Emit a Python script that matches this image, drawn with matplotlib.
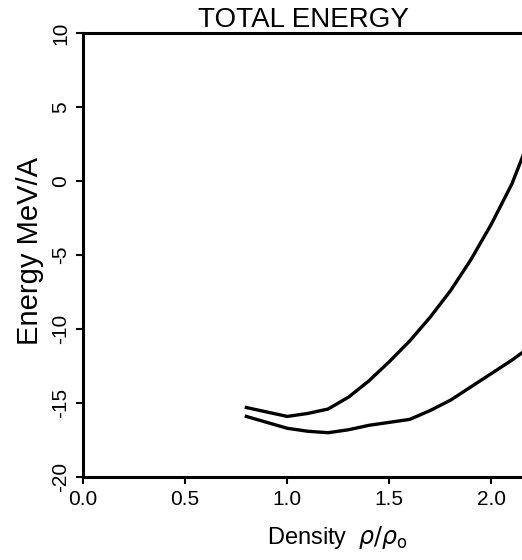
import matplotlib
matplotlib.use("Agg")
import matplotlib.pyplot as plt

# Values (density rho/rho0, energy MeV/A)
density_upper = [0.80, 0.90, 1.00, 1.10, 1.20, 1.30, 1.40, 1.50, 1.60, 1.70, 1.80, 1.90, 2.00, 2.10, 2.16]
energy_upper = [-15.3, -15.6, -15.9, -15.7, -15.4, -14.6, -13.5, -12.2, -10.8, -9.2, -7.4, -5.3, -2.9, -0.2, 1.9]

density_lower = [0.80, 0.90, 1.00, 1.10, 1.20, 1.30, 1.40, 1.50, 1.60, 1.70, 1.80, 1.90, 2.00, 2.10, 2.16]
energy_lower = [-15.9, -16.3, -16.7, -16.9, -17.0, -16.8, -16.5, -16.3, -16.1, -15.5, -14.8, -13.9, -13.0, -12.1, -11.5]

x_ticks = [0.0, 0.5, 1.0, 1.5, 2.0]
y_ticks = [-20, -15, -10, -5, 0, 5, 10]

plt.rcParams['font.family'] = ['Liberation Sans', 'DejaVu Sans']

fig = plt.figure(figsize=(5.22, 5.6), dpi=100)
ax = fig.add_axes([0.159, 0.148, 0.845, 0.793])

ax.plot(density_upper, energy_upper, color='black', lw=2.4)
ax.plot(density_lower, energy_lower, color='black', lw=2.4)

ax.set_xlim(0.0, 2.16)
ax.set_ylim(-20, 10)
ax.set_xticks(x_ticks)
ax.set_xticklabels([f"{t:.1f}" for t in x_ticks], fontsize=15)
ax.set_yticks(y_ticks)
ax.set_yticklabels([str(t) for t in y_ticks], fontsize=15, rotation=90, va='center')

ax.spines['right'].set_visible(False)
for side in ['left', 'top', 'bottom']:
    ax.spines[side].set_linewidth(2.2)
ax.tick_params(direction='out', length=5, width=1.5, pad=4)

ax.set_title("TOTAL ENERGY", fontsize=20, pad=3)
ax.set_xlabel(r"Density  $\rho/\rho_\mathrm{o}$", fontsize=17)
ax.xaxis.set_label_coords(0.576, -0.105)
ax.set_ylabel("Energy MeV/A", fontsize=21)
ax.yaxis.set_label_coords(-0.088, 0.51)

fig.savefig("out.png", dpi=100)
